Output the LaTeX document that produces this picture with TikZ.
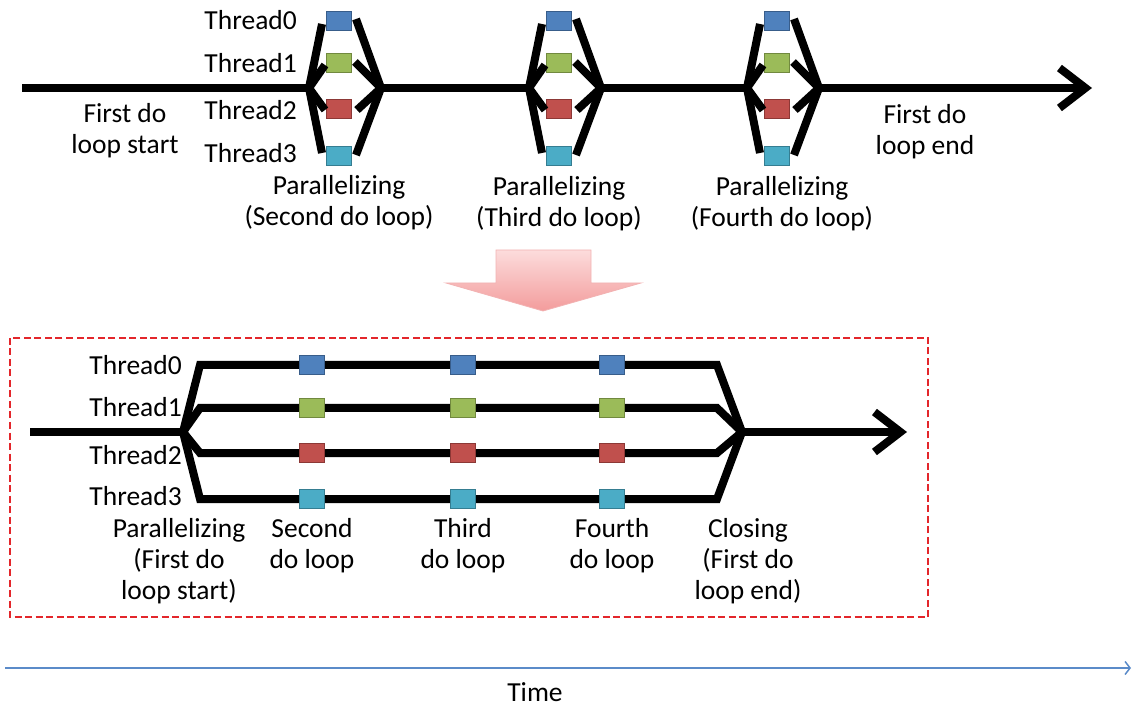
\documentclass[tikz,border=0pt]{standalone}
\usepackage{fontspec}
\setmainfont{Carlito}
\usetikzlibrary{arrows.meta}
\definecolor{tblue}{HTML}{4F81BD}\definecolor{tblueD}{HTML}{385D8A}
\definecolor{tgreen}{HTML}{9BBB59}\definecolor{tgreenD}{HTML}{71893F}
\definecolor{tred}{HTML}{C0504D}\definecolor{tredD}{HTML}{8C3836}
\definecolor{tcyan}{HTML}{4BACC6}\definecolor{tcyanD}{HTML}{357D91}
\definecolor{pinkT}{HTML}{FCDCDC}\definecolor{pinkB}{HTML}{F39C9C}
\definecolor{pinkE}{HTML}{F2B3B3}
\definecolor{boxred}{HTML}{E3262B}
\definecolor{timeblue}{HTML}{5B8BC9}
\tikzset{
  thr/.style={line width=8pt, line cap=butt, line join=miter, black},
  sq/.style={draw, line width=1pt, minimum width=25pt, minimum height=19pt, inner sep=0pt},
  sq0/.style={sq, fill=tblue, draw=tblueD},
  sq1/.style={sq, fill=tgreen, draw=tgreenD},
  sq2/.style={sq, fill=tred, draw=tredD},
  sq3/.style={sq, fill=tcyan, draw=tcyanD},
  lbl/.style={font=\fontsize{27.5}{31}\selectfont, align=center, inner sep=0pt},
  tlbl/.style={lbl, anchor=east},
  bigarrow/.style={-{Straight Barb[length=26pt,width=40pt]}},
}
\begin{document}
\begin{tikzpicture}[x=1pt,y=-1pt]
\useasboundingbox (0,0) rectangle (1136,711);

% ---------- top timeline ----------
\coordinate (start) at (22,88);
\coordinate (end) at (1092,88);
\foreach \c/\n in {339/a,559/b,777/c}{
  \coordinate (s\n) at ({\c-30},88);
  \coordinate (j\n) at ({\c+42},88);
  \node[sq0] (q0\n) at (\c,21) {};
  \node[sq1] (q1\n) at (\c,63) {};
  \node[sq2] (q2\n) at (\c,109) {};
  \node[sq3] (q3\n) at (\c,156) {};
  \coordinate (l0\n) at ({\c-17},24);
  \coordinate (l1\n) at ({\c-14},65);
  \coordinate (l2\n) at ({\c-14},110);
  \coordinate (l3\n) at ({\c-17},153);
  \coordinate (r0\n) at ({\c+17},19);
  \coordinate (r1\n) at ({\c+16},62);
  \coordinate (r2\n) at ({\c+18},110);
  \coordinate (r3\n) at ({\c+17},155);
  \draw[thr] (l0\n) -- (s\n) -- (l3\n);
  \draw[thr] (l1\n) -- (s\n) -- (l2\n);
  \draw[thr] (r0\n) -- (j\n) -- (r3\n);
  \draw[thr] (r1\n) -- (j\n) -- (r2\n);
}
\draw[thr] (start) -- (sa);
\draw[thr] (ja) -- (sb);
\draw[thr] (jb) -- (sc);
\draw[thr, bigarrow] (jc) -- (end);

\node[tlbl] (t0) at (297,20) {Thread0};
\node[tlbl] (t1) at (297,63) {Thread1};
\node[tlbl] (t2) at (297,110) {Thread2};
\node[tlbl] (t3) at (297,153) {Thread3};

\node[lbl] (fs) at (125,131) {First do\\loop start};
\node[lbl] (fe) at (925,132) {First do\\loop end};
\node[lbl] (p2) at (339,203) {Parallelizing\\(Second do loop)};
\node[lbl] (p3) at (559,204) {Parallelizing\\(Third do loop)};
\node[lbl] (p4) at (782,204) {Parallelizing\\(Fourth do loop)};

% ---------- pink arrow ----------
\shade[top color=pinkT, bottom color=pinkB, draw=pinkE, line width=0.8pt]
  (496,250) -- (591,250) -- (591,283) -- (641,283) -- (543,311)
  -- (446,283) -- (496,283) -- cycle;

% ---------- dashed box ----------
\draw[boxred, line width=2.3pt, dash pattern=on 7pt off 3.5pt] (10,338) rectangle (928,617);

% ---------- bottom timeline ----------
\coordinate (bstart) at (30,432);
\coordinate (bs) at (183,432);
\coordinate (bj) at (742,432);
\coordinate (bend) at (907,432);
\foreach \y/\k in {365/0,408/1,453/2,499/3}{
  \coordinate (bl\k) at (200,\y);
  \coordinate (br\k) at (717,\y);
  \draw[thr] (bs) -- (bl\k) -- (br\k) -- (bj);
  \node[sq\k] (b\k a) at (312,\y) {};
  \node[sq\k] (b\k b) at (463,\y) {};
  \node[sq\k] (b\k c) at (612,\y) {};
}
\draw[thr] (bstart) -- (bs);
\draw[thr, bigarrow] (bj) -- (bend);

\node[tlbl] (bt0) at (182,365) {Thread0};
\node[tlbl] (bt1) at (182,407) {Thread1};
\node[tlbl] (bt2) at (182,455) {Thread2};
\node[tlbl] (bt3) at (182,496) {Thread3};

\node[lbl, anchor=north] (bp1) at (179,518) {Parallelizing\\(First do\\loop start)};
\node[lbl, anchor=north] (bp2) at (312,518) {Second\\do loop};
\node[lbl, anchor=north] (bp3) at (463,518) {Third\\do loop};
\node[lbl, anchor=north] (bp4) at (612,518) {Fourth\\do loop};
\node[lbl, anchor=north] (bp5) at (748,518) {Closing\\(First do\\loop end)};

% ---------- time axis ----------
\coordinate (ts) at (5,668);
\coordinate (te) at (1131,668);
\draw[timeblue, line width=1.5pt, -{Straight Barb[length=5pt,width=13pt]}] (ts) -- (te);
\node[lbl] (time) at (535,692) {Time};
\end{tikzpicture}
\end{document}
